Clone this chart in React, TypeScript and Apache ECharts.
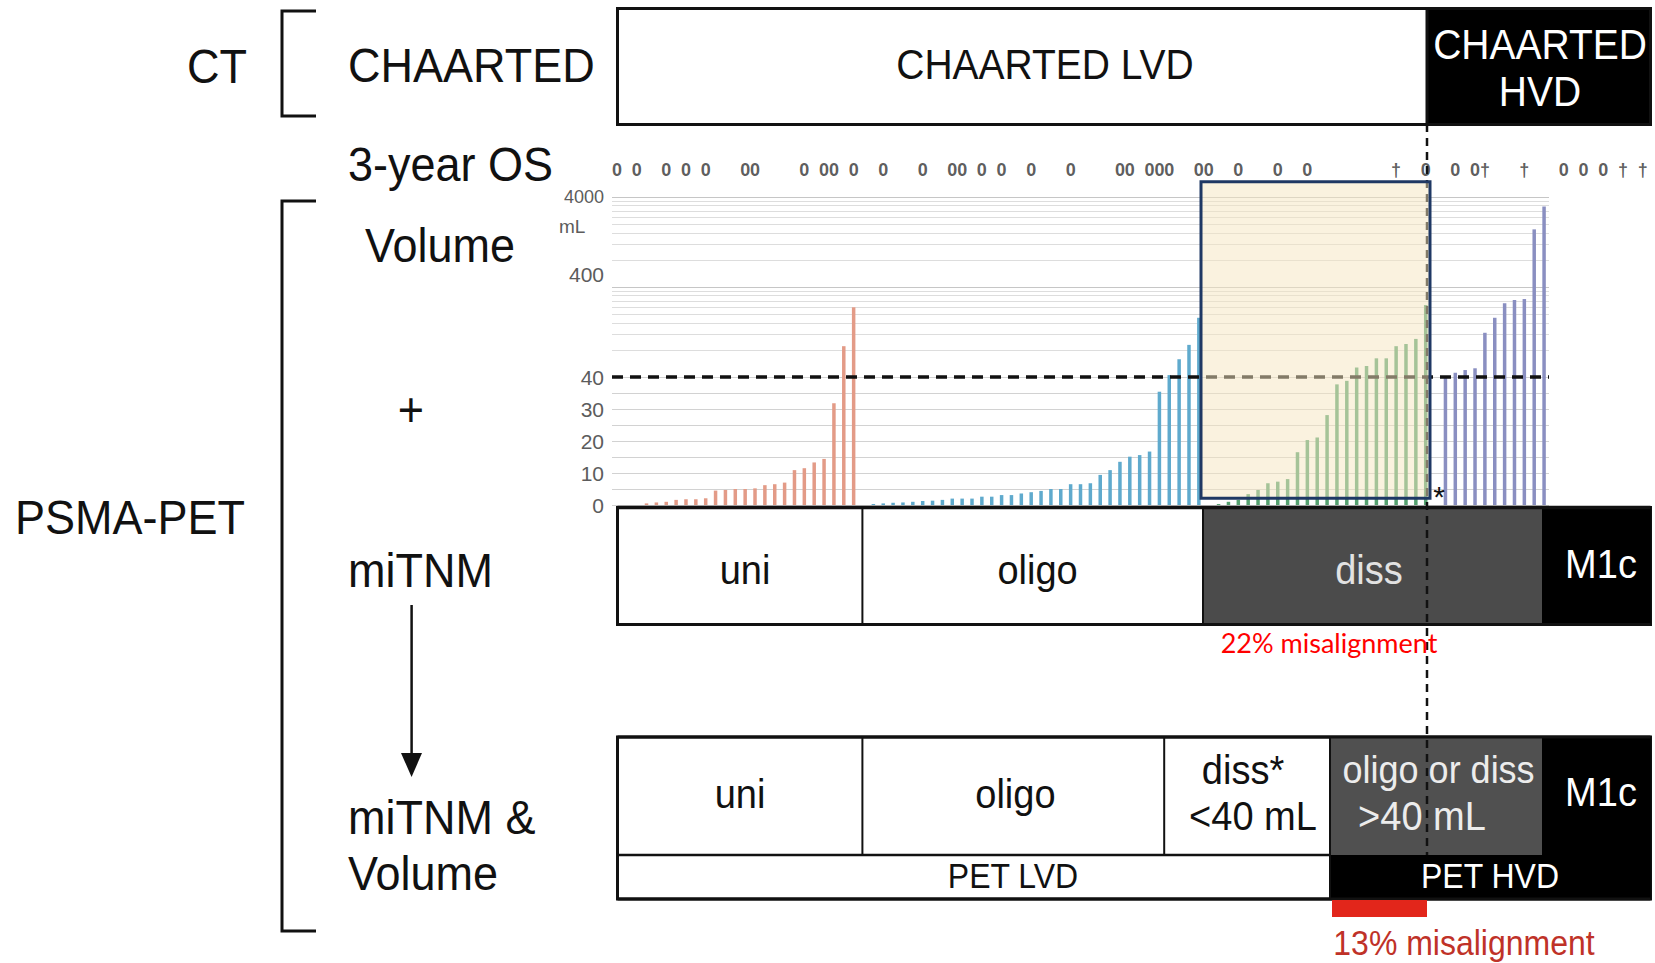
import React, { useEffect, useRef } from 'react';
import * as echarts from 'echarts';

// ---------- data ----------
// PSMA-PET tumour volume (mL) per patient, grouped by miTNM class
const uniVolumes = [0.5, 0.8, 1.0, 1.6, 1.8, 1.8, 2.1, 4.5, 4.7, 5.0, 5.0, 5.2, 6.2, 6.5, 7.0, 10.9, 11.5, 13.3, 14.4, 31.8, 88, 238];
const oligoVolumes = [0.3, 0.5, 0.7, 0.8, 1.0, 1.25, 1.35, 1.6, 2.0, 2.0, 2.0, 2.6, 2.6, 3.1, 3.1, 3.6, 4.0, 4.4, 5.0, 5.0, 6.5, 6.5, 6.8, 9.4, 10.9, 13.5, 15.1, 15.6, 16.7, 35.4, 42, 63, 91, 182];
const dissVolumes = [0.3, 1.0, 1.6, 3.4, 4.7, 6.8, 7.3, 8.1, 16.5, 20.3, 21.1, 28.1, 37.7, 38.8, 51, 53, 64.5, 64.5, 88, 93, 106, 252];
const hvdVolumes = [40.5, 44.6, 47.8, 50, 124, 182, 264, 287, 294, 1748, 3136];
const groupColors = ['#E39B87', '#5FAACD', '#55A170', '#8A8FC1'];

// y-axis ticks
const linearTicks = [0, 10, 20, 30, 40];
const logLabelTicks = [400, 4000];
const logGridValues = [80, 120, 160, 200, 240, 280, 320, 360, 400, 800, 1200, 1600, 2000, 2400, 2800, 3200, 3600, 4000];
const volumeCutoff = 40;

// 3-year OS row: '0' alive, '†' deceased, '' no mark
const osStatus = [
  '0', '', '0', '', '', '0', '', '0', '', '0',
  '', '', '', '0', '0', '', '', '', '', '0',
  '', '0', '0', '', '0', '', '', '0', '', '',
  '', '0', '', '', '0', '0', '', '0', '', '0',
  '', '', '0', '', '', '', '0', '', '', '',
  '', '0', '0', '', '0', '0', '0', '', '', '0',
  '0', '', '', '0', '', '', '', '0', '', '',
  '0', '', '', '', '', '', '', '', '', '†',
  '', '', '0', '', '', '0', '', '0', '†', '',
  '', '', '†', '', '', '', '0', '', '0', '',
  '0', '', '†', '', '†',
];

// ---------- layout ----------
const W = 1655;
const H = 963;
const FONT = "'Liberation Sans', Arial, Helvetica, sans-serif";
const PLOT_LEFT = 612;
const PLOT_WIDTH = 937;
const SY = 1.07;

export default function App() {
  const ref = useRef<HTMLDivElement | null>(null);

  useEffect(() => {
    document.body.style.margin = '0';
    if (!ref.current) return;
    const chart = echarts.init(ref.current, null, { renderer: 'svg' });

    // assemble slots: 3 blank slots, then groups separated by one blank slot
    const slotValues: (number | null)[] = [null, null, null];
    const slotColors: (string | null)[] = [null, null, null];
    [uniVolumes, oligoVolumes, dissVolumes, hvdVolumes].forEach((g, gi) => {
      if (gi > 0) { slotValues.push(null); slotColors.push(null); }
      g.forEach((v) => { slotValues.push(v); slotColors.push(groupColors[gi]); });
    });
    const cats = slotValues.map((_, i) => String(i + 1));
    const slotW = PLOT_WIDTH / cats.length;
    const barData = slotValues.map((v, i) =>
      v == null ? '-' : { value: v, itemStyle: { color: slotColors[i] } }
    );
    const osCats = osStatus.map((_, i) => String(i + 1));
    const osData = osStatus
      .map((s, i) => (s ? { name: s, value: [i, 0] } : null))
      .filter((d) => d !== null);

    const T = (x: number, y: number, text: string, size: number, o: any = {}) => ({
      type: 'text',
      x,
      y,
      z: 60,
      silent: true,
      scaleY: o.sy || SY,
      style: {
        text,
        fontSize: size,
        fontFamily: o.family || FONT,
        fontWeight: o.weight || 'normal',
        fill: o.color || '#111',
        align: o.align || 'center',
        verticalAlign: 'middle',
        textAlign: o.align || 'center',
        textVerticalAlign: 'middle',
      },
    });
    const R = (x: number, y: number, w: number, h: number, fill: string, stroke?: string | null, lw = 0, z = 10) => ({
      type: 'rect',
      z,
      silent: true,
      shape: { x, y, width: w, height: h },
      style: { fill, stroke: stroke || null, lineWidth: lw },
    });
    const L = (x1: number, y1: number, x2: number, y2: number, lw = 3, z = 12, dash?: number[], color = '#111') => ({
      type: 'line',
      z,
      silent: true,
      shape: { x1, y1, x2, y2 },
      style: { stroke: color, lineWidth: lw, lineDash: dash || null },
    });

    const graphics: any[] = [
      // brackets
      { type: 'polyline', z: 12, silent: true, shape: { points: [[316, 11], [282, 11], [282, 116], [316, 116]] }, style: { stroke: '#111', lineWidth: 3, fill: null } },
      { type: 'polyline', z: 12, silent: true, shape: { points: [[316, 201], [282, 201], [282, 931], [316, 931]] }, style: { stroke: '#111', lineWidth: 3, fill: null } },
      // arrow
      L(411.6, 605, 411.6, 756, 2.5),
      { type: 'polygon', z: 12, silent: true, shape: { points: [[401, 753], [422, 753], [411.6, 777]] }, style: { fill: '#111' } },
      // left labels
      T(217, 66, 'CT', 45),
      T(348, 65, 'CHAARTED', 45, { align: 'left' }),
      T(348, 164, '3-year OS', 45, { align: 'left' }),
      T(365, 245, 'Volume', 45, { align: 'left' }),
      T(411, 409, '+', 45),
      T(15, 517, 'PSMA-PET', 45, { align: 'left' }),
      T(348, 570, 'miTNM', 45, { align: 'left' }),
      T(348, 817, 'miTNM &', 45, { align: 'left' }),
      T(348, 873, 'Volume', 45, { align: 'left' }),

      // CHAARTED row
      R(617.5, 8.5, 1033, 116, '#fff', '#111', 3),
      R(1427, 8.5, 223.5, 116, '#000', '#111', 3, 11),
      T(1045, 65, 'CHAARTED LVD', 39),
      T(1540, 45, 'CHAARTED', 39, { color: '#fff' }),
      T(1540, 92, 'HVD', 39, { color: '#fff' }),

      // miTNM row
      R(617.5, 507.5, 1033, 117, '#fff', '#111', 3),
      R(1203, 507.5, 339, 117, '#4b4b4b', null, 0, 11),
      R(1542, 507.5, 108.5, 117, '#000', null, 0, 11),
      L(617.5, 507.5, 1650.5, 507.5, 3.5, 13),
      L(617.5, 624.5, 1650.5, 624.5, 3, 13),
      L(862.4, 507.5, 862.4, 624.5, 2, 13),
      L(1203, 507.5, 1203, 624.5, 2, 13),
      T(745, 570, 'uni', 38),
      T(1037.6, 570, 'oligo', 38),
      T(1369, 570, 'diss', 38, { color: '#e2e2e2' }),
      T(1601, 564, 'M1c', 38, { color: '#fff' }),
      T(1329, 642, '22% misalignment', 27, { color: '#ff0000', family: 'Lato, "Open Sans", sans-serif', sy: 1 }),

      // miTNM & Volume rows
      R(617.5, 737, 1033, 162, '#fff', '#111', 3),
      R(1330, 737, 212, 118, '#505050', null, 0, 11),
      R(1542, 737, 108.5, 118, '#000', null, 0, 11),
      R(1330, 855, 320.5, 44, '#000', null, 0, 11),
      L(617.5, 737, 1650.5, 737, 3, 13),
      L(617.5, 899, 1650.5, 899, 3, 13),
      L(617.5, 855, 1330, 855, 2.5, 13),
      L(862.4, 737, 862.4, 855, 2, 13),
      L(1164.2, 737, 1164.2, 855, 2, 13),
      L(1330, 737, 1330, 899, 2, 13),
      T(740, 794, 'uni', 38),
      T(1015.4, 794, 'oligo', 38),
      T(1243, 770, 'diss*', 38),
      T(1253, 816, '<40 mL', 38),
      T(1438.6, 770, 'oligo or diss', 36, { color: '#ececec' }),
      T(1422, 816, '>40 mL', 38, { color: '#ececec' }),
      T(1601, 792, 'M1c', 38, { color: '#fff' }),
      T(1013, 876, 'PET LVD', 32),
      T(1490, 876, 'PET HVD', 32, { color: '#fff' }),

      // misalignment annotations
      R(1332, 900, 95, 17, '#e2261b', null, 0, 14),
      T(1464, 943, '13% misalignment', 32, { color: '#bf3228' }),

      // vertical dashed CHAARTED boundary
      L(1427, 124, 1427, 855, 2.5, 45, [8, 6]),
      // highlight box
      R(1201, 181.7, 229, 316.6, 'rgba(246,230,192,0.5)', '#1f3864', 3, 50),
      T(1439, 496, '*', 30, { sy: 1 }),
      T(559, 226, 'mL', 19, { align: 'left', color: '#5c5c5c', sy: 1 }),
    ];

    const option: any = {
      animation: false,
      backgroundColor: '#fff',
      textStyle: { fontFamily: FONT },
      grid: [
        { left: PLOT_LEFT, top: 197, width: PLOT_WIDTH, height: 180 },
        { left: PLOT_LEFT, top: 377, width: PLOT_WIDTH, height: 128 },
        { left: PLOT_LEFT, top: 160, width: slotW * osStatus.length, height: 20 },
      ],
      xAxis: [
        { type: 'category', gridIndex: 0, data: cats, show: false },
        { type: 'category', gridIndex: 1, data: cats, show: false },
        { type: 'category', gridIndex: 2, data: osCats, show: false },
      ],
      yAxis: [
        {
          type: 'log', gridIndex: 0, min: 40, max: 4000, logBase: 10,
          axisLine: { show: false }, axisTick: { show: false },
          axisLabel: { show: false }, splitLine: { show: false },
        },
        {
          type: 'value', gridIndex: 1, min: 0, max: 40, interval: 5,
          axisLine: { show: false }, axisTick: { show: false },
          axisLabel: {
            formatter: (v: number) => (linearTicks.includes(v) ? String(v) : ''),
            fontSize: 21, color: '#5c5c5c', margin: 8, fontFamily: FONT,
          },
          splitLine: { lineStyle: { color: '#d2d2d2', width: 1 } },
        },
        { type: 'value', gridIndex: 2, min: -1, max: 1, show: false },
      ],
      series: [
        {
          type: 'bar', xAxisIndex: 0, yAxisIndex: 0, data: barData, barWidth: 3.5, clip: true,
          markLine: {
            silent: true, symbol: 'none', z: 1, animation: false,
            data: logGridValues.map((v) => ({
              yAxis: v,
              lineStyle: { color: logLabelTicks.includes(v) ? '#c6c6c6' : '#dddddd', width: 1, type: 'solid' },
              label: logLabelTicks.includes(v)
                ? {
                    show: true, position: 'start', distance: 8,
                    formatter: v === 4000 ? String(v) : String(v) + '\n ',
                    fontSize: v === 4000 ? 18 : 21, lineHeight: v === 4000 ? 20 : 26,
                    color: '#5c5c5c', fontFamily: FONT,
                  }
                : { show: false },
            })),
          },
        },
        {
          type: 'bar', xAxisIndex: 1, yAxisIndex: 1, data: barData, barWidth: 3.5, clip: true,
          markLine: {
            silent: true, symbol: 'none', animation: false,
            data: [{ yAxis: volumeCutoff }],
            lineStyle: { type: [11, 7], width: 3.5, color: '#111' },
            label: { show: false },
          },
        },
        {
          type: 'scatter', xAxisIndex: 2, yAxisIndex: 2, data: osData, symbolSize: 1,
          itemStyle: { color: 'rgba(0,0,0,0)' },
          label: {
            show: true, position: 'inside', formatter: (p: any) => p.name,
            fontSize: 18, fontWeight: 'bold', color: '#333', fontFamily: FONT,
          },
        },
      ],
      graphic: { elements: graphics },
    };

    chart.setOption(option);
    return () => chart.dispose();
  }, []);

  return (
    <div
      ref={ref}
      style={{ position: 'fixed', left: 0, top: 0, width: W, height: H, background: '#fff' }}
    />
  );
}
